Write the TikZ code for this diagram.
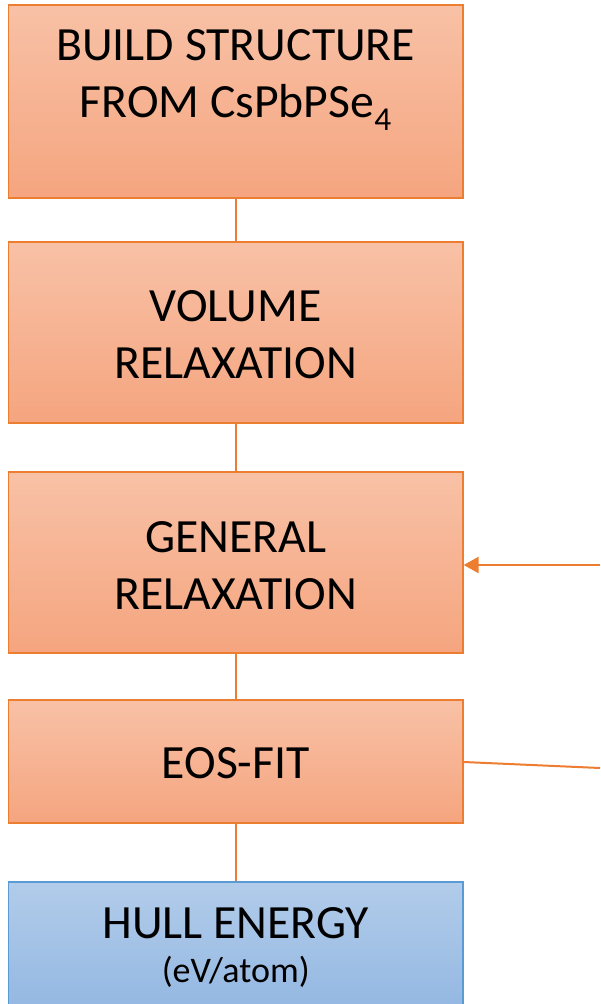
\documentclass[tikz,border=0pt]{standalone}
\usepackage{fontspec}
\setmainfont{Carlito}
\usetikzlibrary{arrows.meta}
\definecolor{ored}{RGB}{237,125,49}
\definecolor{otop}{RGB}{248,193,166}
\definecolor{obot}{RGB}{245,165,127}
\definecolor{bline}{RGB}{91,155,213}
\definecolor{btop}{RGB}{178,204,234}
\definecolor{bbot}{RGB}{148,184,226}
\tikzset{
  obox/.style={draw=ored, line width=1.3pt, top color=otop, bottom color=obot, minimum width=454.5pt, inner sep=0pt},
  bbox/.style={draw=bline, line width=1.3pt, top color=btop, bottom color=bbot, minimum width=454.5pt, inner sep=0pt},
  big/.style={font=\fontsize{47.7}{57}\selectfont, align=center, inner sep=0pt},
  small/.style={font=\fontsize{36}{42}\selectfont, inner sep=0pt},
  conn/.style={draw=ored, line width=1.5pt},
}
\begin{document}
\begin{tikzpicture}[x=1pt,y=-1pt]
\useasboundingbox (0,0) rectangle (600,1004);
\node[obox, minimum height=193pt] (b1) at (235.75,101.5) {};
\node[obox, minimum height=181pt] (b2) at (235.75,332.5) {};
\node[obox, minimum height=181pt] (b3) at (235.75,562.5) {};
\node[obox, minimum height=123pt] (b4) at (235.75,761.5) {};
\node[bbox, minimum height=126pt] (b5) at (235.75,945) {};
\node[big] (t1) at (235.75,80) {BUILD STRUCTURE\\FROM CsPbPSe\textsubscript{4}};
\node[big] (t2) at (235.75,334.5) {VOLUME\\RELAXATION};
\node[big] (t3) at (235.75,565.5) {GENERAL\\RELAXATION};
\node[big] (t4) at (235.75,763) {EOS-FIT};
\node[big] (t5) at (235.75,923) {HULL ENERGY};
\node[small] (t6) at (235.75,972) {(eV/atom)};
\coordinate (inR) at (600,565);
\coordinate (outR) at (600,768);
\draw[conn] (b1.south) -- (b2.north);
\draw[conn] (b2.south) -- (b3.north);
\draw[conn] (b3.south) -- (b4.north);
\draw[conn] (b4.south) -- (b5.north);
\draw[conn, line width=2.5pt, -{Triangle[length=15pt,width=16pt]}] (inR) -- (inR -| b3.east);
\draw[conn, line width=2pt] (b4.east |- 0,762) -- (outR);
\end{tikzpicture}
\end{document}
